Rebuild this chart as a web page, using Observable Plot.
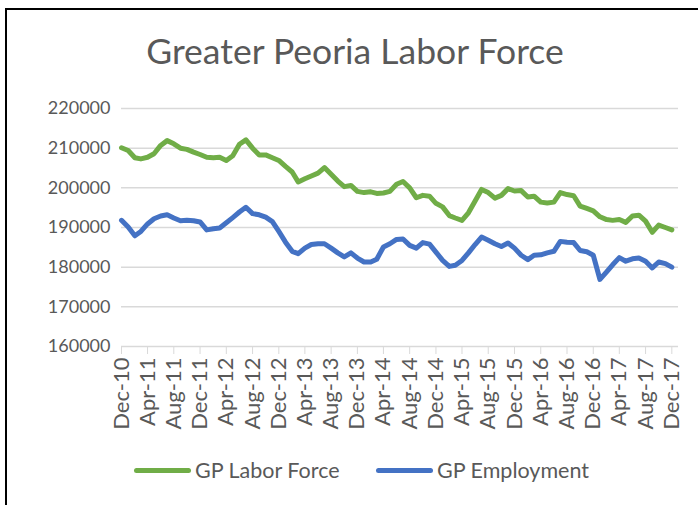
<!DOCTYPE html>
<html>
<head>
<meta charset="utf-8">
<script src="https://cdn.jsdelivr.net/npm/d3@7"></script>
<script src="https://cdn.jsdelivr.net/npm/@observablehq/plot@0.6"></script>
<style>
  html, body { margin: 0; padding: 0; background: #fff; width: 698px; height: 505px; overflow: hidden; }
  #frame { position: absolute; left: 5px; top: 8px; width: 740px; height: 560px; border: 2px solid #000; box-sizing: border-box; }
  #title { position: absolute; left: 0; top: 33px; width: 710px; text-align: center; font-family: Lato, sans-serif; font-size: 35.5px; line-height: 36px; color: #595959; }
  #chart { position: absolute; left: 0; top: 90px; }
  .leg { position: absolute; font-family: Lato, sans-serif; font-size: 21.5px; line-height: 22px; color: #595959; white-space: nowrap; }
  .sw { position: absolute; height: 5px; border-radius: 3px; }
</style>
</head>
<body>
<div id="frame"></div>
<div id="title">Greater Peoria Labor Force</div>
<div id="chart"></div>
<div id="legend"></div>
<script>
// Categories: monthly, Dec-10 .. Dec-17
const startMonth = new Date(Date.UTC(2010, 11, 1));
const months = d3.utcMonth.range(startMonth, new Date(Date.UTC(2018, 0, 2)));

const seriesNames = ["GP Labor Force", "GP Employment"];
const seriesColors = ["#70ad47", "#4472c4"];

const laborForce = [
  210100, 209400, 207600, 207300, 207700, 208600, 210700, 211900, 211100, 210000,
  209700, 209000, 208400, 207700, 207600, 207700, 206900, 208100, 211000, 212100,
  210000, 208300, 208300, 207600, 206900, 205400, 204000, 201500, 202300, 203000,
  203700, 205100, 203400, 201700, 200300, 200600, 199100, 198800, 199000, 198600,
  198700, 199100, 200900, 201600, 200000, 197500, 198100, 197900, 196100, 195200,
  193000, 192400, 191800, 193700, 196700, 199600, 198800, 197400, 198100, 199800,
  199200, 199300, 197700, 197900, 196400, 196200, 196400, 198800, 198300, 198000,
  195400, 194800, 194200, 192700, 192000, 191800, 192000, 191300, 192900, 193100,
  191600, 188800, 190600, 190000, 189400
];

const employment = [
  191800, 190100, 187900, 189000, 190900, 192200, 192900, 193200, 192400, 191700,
  191800, 191700, 191400, 189400, 189700, 189900, 191200, 192500, 193900, 195100,
  193500, 193200, 192600, 191500, 189000, 186300, 184000, 183400, 184800, 185700,
  185900, 185900, 184800, 183600, 182600, 183600, 182300, 181300, 181300, 182000,
  185100, 185900, 187000, 187100, 185500, 184800, 186200, 185800, 183800, 181700,
  180200, 180500, 181700, 183600, 185700, 187600, 186800, 185900, 185200, 186100,
  184800, 183000, 181900, 183000, 183100, 183600, 184000, 186500, 186300, 186200,
  184200, 183900, 183000, 176900, 178800, 180600, 182400, 181500, 182100, 182300,
  181500, 179800, 181300, 180900, 180000
];

const yTicks = [160000, 170000, 180000, 190000, 200000, 210000, 220000];
const xTickLabels = ["Dec-10","Apr-11","Aug-11","Dec-11","Apr-12","Aug-12","Dec-12","Apr-13","Aug-13","Dec-13","Apr-14","Aug-14","Dec-14","Apr-15","Aug-15","Dec-15","Apr-16","Aug-16","Dec-16","Apr-17","Aug-17","Dec-17"];
const xTicks = months.filter((d, i) => i % 4 === 0);

const rows = months.flatMap((d, i) => [
  {date: d, value: laborForce[i], series: seriesNames[0]},
  {date: d, value: employment[i], series: seriesNames[1]}
]);

const chart = Plot.plot({
  width: 698,
  height: 360,
  marginLeft: 121,
  marginRight: 20,
  marginTop: 18,
  marginBottom: 104,
  style: {fontFamily: "Lato, sans-serif", fontSize: "18px", color: "#595959", background: "transparent", overflow: "visible"},
  x: {type: "utc", domain: [months[0], months[months.length - 1]], label: null},
  y: {domain: [160000, 220000], label: null},
  color: {domain: seriesNames, range: seriesColors},
  marks: [
    Plot.gridY(yTicks, {stroke: "#d9d9d9", strokeOpacity: 1, strokeWidth: 1.5}),
    Plot.axisY(yTicks, {tickSize: 0, tickPadding: 11, tickFormat: d => String(d), fill: "#595959"}),
    Plot.axisX(xTicks, {tickSize: 8, tickPadding: 3, tickRotate: -90, stroke: "#d9d9d9", fill: "#595959", fontSize: 22,
      tickFormat: (d) => xTickLabels[xTicks.findIndex(t => +t === +d)]}),
    Plot.lineY(rows, {x: "date", y: "value", z: "series", stroke: "series", strokeWidth: 5, strokeLinejoin: "round", strokeLinecap: "round"})
  ]
});
document.getElementById("chart").appendChild(chart);

// Legend
const legend = document.getElementById("legend");
const legPos = [{sw: 134, tx: 195}, {sw: 376, tx: 437}];
seriesNames.forEach((name, i) => {
  const sw = document.createElement("div");
  sw.className = "sw";
  sw.style.left = legPos[i].sw + "px";
  sw.style.top = "468px";
  sw.style.width = "57px";
  sw.style.background = seriesColors[i];
  legend.appendChild(sw);
  const tx = document.createElement("div");
  tx.className = "leg";
  tx.style.left = legPos[i].tx + "px";
  tx.style.top = "459px";
  tx.textContent = name;
  legend.appendChild(tx);
});
</script>
</body>
</html>
